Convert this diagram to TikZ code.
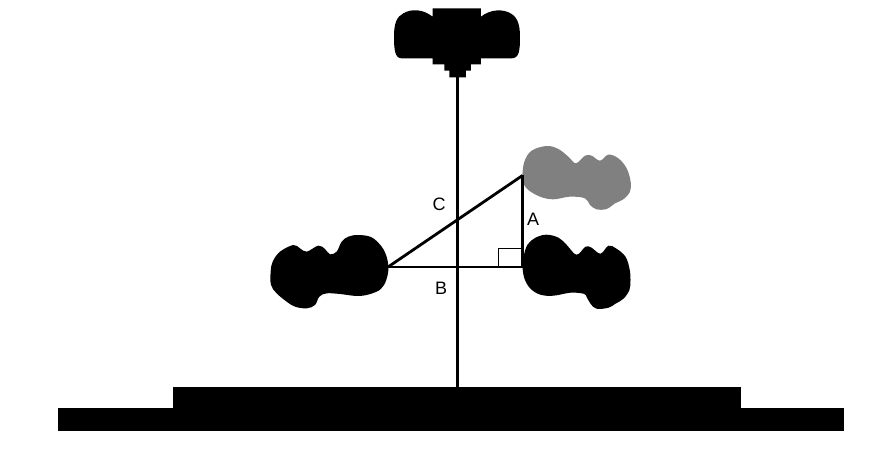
\documentclass[tikz,border=0pt]{standalone}
\usepackage{fontspec}
\setmainfont{Liberation Sans}
\definecolor{blobgray}{gray}{0.5}
\tikzset{
  leg/.style={line width=2.8pt,black},
  mark box/.style={draw=black,line width=1pt,fill=white},
  plate/.style={fill=black,draw=none},
  lbl/.style={font=\fontsize{18}{18}\selectfont,inner sep=0pt}
}
\newcommand{\blobright}{(0,0) (1,-10) (5,-22) (13,-29) (24,-32) (36,-29) (44,-22) (54,-12)
  (63,-20) (69,-19) (78,-13) (86,-21) (94,-18) (103,-10) (107,2) (108,13) (107,23) (101,32)
  (93,37) (86,41) (74,42) (68,37) (64,30) (61,27) (48,26) (31,29) (18,28) (8,22) (2,12)}
\begin{document}
\begin{tikzpicture}[x=1pt,y=-1pt]
      \useasboundingbox (0,0) rectangle (872,457);
      \coordinate (top) at (457.5,76);
      \coordinate (foot) at (457.5,388);
      \coordinate (far) at (388,267);
      \coordinate (near) at (522.5,267);
      \coordinate (tip) at (522.5,175.5);

      % blobs
      \fill[blobgray,shift={(490,140)},x=0.3333pt,y=-0.3333pt] plot[smooth cycle,tension=0.6] coordinates {
        (97,110) (103,65) (125,32) (170,18) (205,27) (235,50) (258,70) (285,47) (305,47)
        (330,62) (355,44) (385,55) (410,85) (422,125) (420,155) (400,178) (375,190) (350,207)
        (320,208) (300,195) (285,175) (240,170) (190,178) (150,170) (115,150) (100,130)};
      \fill[black,shift={(522.5,266.7)}] plot[smooth cycle,tension=0.6] coordinates {\blobright};
      \fill[black,shift={(260,225)},x=0.3333pt,y=-0.3333pt] plot[smooth cycle,tension=0.6] coordinates {
        (385,125) (383,150) (372,180) (350,200) (300,213) (240,207) (200,205) (178,215)
        (165,240) (140,250) (105,245) (80,230) (50,205) (33,180) (32,140) (38,110) (60,80)
        (100,60) (120,70) (140,80) (175,62) (195,72) (210,88) (230,80) (245,50) (265,35)
        (295,30) (335,37) (365,65) (380,95)};

      % camera
      \fill[black,shift={(380,0)},x=0.3333pt,y=-0.3333pt]
        (42,110) .. controls (42,70) and (50,50) .. (70,40)
        .. controls (95,25) and (130,28) .. (158,50) -- (158,25) -- (303,25) -- (303,50)
        .. controls (330,28) and (370,25) .. (395,42)
        .. controls (415,55) and (420,80) .. (420,110)
        .. controls (420,150) and (418,175) .. (395,175) -- (303,175) -- (303,193) -- (273,193)
        -- (273,212) -- (258,212) -- (258,232) -- (208,232) -- (208,212) -- (193,212)
        -- (193,193) -- (158,193) -- (158,175) -- (65,175)
        .. controls (45,175) and (42,150) .. (42,110) -- cycle;

      % base
      \fill[plate] (173,387) rectangle (741,409);
      \fill[plate] (58,408) rectangle (844,431);

      \draw[mark box] (498,248) rectangle (near);
      \draw[leg] (top) -- (foot);
      \draw[leg] (far) -- (near);
      \draw[leg] (near) -- (tip);
      \draw[leg] (far) -- (tip);

      \node[lbl] (labelc) at (439,204) {C};
      \node[lbl] (labela) at (533,219) {A};
      \node[lbl] (labelb) at (441,288.5) {B};
    \end{tikzpicture}
\end{document}
